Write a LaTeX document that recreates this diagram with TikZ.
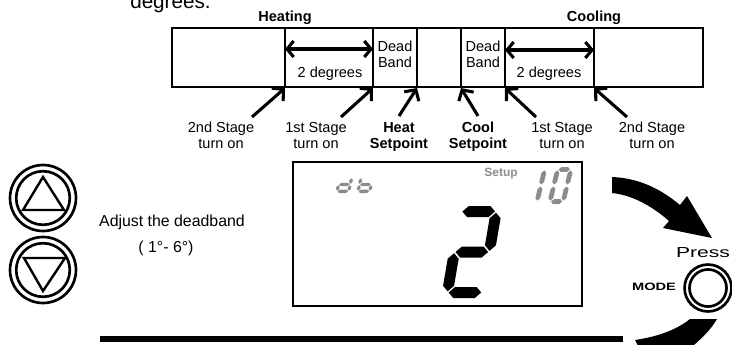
\documentclass[tikz,border=0pt]{standalone}
\usepackage{fontspec}
\setmainfont{Liberation Sans}
\usepackage{graphicx}
\usetikzlibrary{arrows.meta}
\definecolor{lcdgray}{HTML}{8C8C8C}
\newcommand\twoline[2]{\begin{tabular}[t]{@{}c@{}}#1\\#2\end{tabular}}
\newcommand\hseg[4]{\fill (#1,#3) -- (#1+#4/2,#3+#4/2) -- (#2-#4/2,#3+#4/2) -- (#2,#3) -- (#2-#4/2,#3-#4/2) -- (#1+#4/2,#3-#4/2) -- cycle;}
\newcommand\vseg[4]{\fill (#1,#2) -- (#1+#4/2,#2+#4/2) -- (#1+#4/2,#3-#4/2) -- (#1,#3) -- (#1-#4/2,#3-#4/2) -- (#1-#4/2,#2+#4/2) -- cycle;}
\newcommand\segA{\hseg{\dT/2+\dG}{\dW-\dT/2-\dG}{\dH-\dT/2}{\dT}}
\newcommand\segG{\hseg{\dT/2+\dG}{\dW-\dT/2-\dG}{\dH/2}{\dT}}
\newcommand\segD{\hseg{\dT/2+\dG}{\dW-\dT/2-\dG}{\dT/2}{\dT}}
\newcommand\segB{\vseg{\dW-\dT/2}{\dH/2+\dG}{\dH-\dT/2-\dG}{\dT}}
\newcommand\segC{\vseg{\dW-\dT/2}{\dT/2+\dG}{\dH/2-\dG}{\dT}}
\newcommand\segE{\vseg{\dT/2}{\dT/2+\dG}{\dH/2-\dG}{\dT}}
\newcommand\segF{\vseg{\dT/2}{\dH/2+\dG}{\dH-\dT/2-\dG}{\dT}}
\begin{document}
\begin{tikzpicture}[x=0.75pt,y=-0.75pt,
  txt/.style={font=\fontsize{10.9}{12}\selectfont, inner sep=0pt, anchor=base},
  btxt/.style={txt, font=\fontsize{10.9}{12}\selectfont\bfseries},
  barline/.style={line width=1.1pt},
  ptr/.style={line width=2.3pt, -{Straight Barb[length=6pt,width=13pt]}},
  dbl/.style={line width=2.3pt, {Straight Barb[length=5pt,width=12pt]}-{Straight Barb[length=5pt,width=12pt]}},
  ring/.style={line width=2pt},
]
\useasboundingbox (0,0) rectangle (732,344);

% caption fragment
\node[font=\fontsize{15.5}{18}\selectfont, inner sep=0pt, anchor=base west] (capt) at (130,8) {degrees.};

% band bar
\draw[barline] (172,28) rectangle (703,87);
\foreach \x in {285,373,417,461,505,594} \draw[barline] (\x,28) -- (\x,87);
\coordinate (t1) at (285,88); \coordinate (t2) at (373,88); \coordinate (t3) at (417,88);
\coordinate (t4) at (461,88); \coordinate (t5) at (505,88); \coordinate (t6) at (594,88);
\coordinate (s1) at (252,117); \coordinate (s2) at (341,117); \coordinate (s3) at (399,116);
\coordinate (s4) at (478,116); \coordinate (s5) at (536,117); \coordinate (s6) at (627,117);
\coordinate (h1) at (285,49); \coordinate (h2) at (373,49);
\coordinate (c1) at (505,50); \coordinate (c2) at (594,50);

\node[btxt] (heating) at (285,21) {Heating};
\node[btxt] (cooling) at (594,21) {Cooling};
\node[txt] (deg1) at (330,77) {2 degrees};
\node[txt] (deg2) at (549,77) {2 degrees};
\node[txt] (dead1) at (395,51) {\twoline{Dead}{Band}};
\node[txt] (dead2) at (483,51) {\twoline{Dead}{Band}};
\draw[dbl] (h1) -- (h2);
\draw[dbl] (c1) -- (c2);

\node[txt] (l1) at (221,132) {\twoline{2nd Stage}{turn on}};
\node[txt] (l2) at (316,132) {\twoline{1st Stage}{turn on}};
\node[btxt] (l3) at (399,132) {\twoline{Heat}{Setpoint}};
\node[btxt] (l4) at (478,132) {\twoline{Cool}{Setpoint}};
\node[txt] (l5) at (562,132) {\twoline{1st Stage}{turn on}};
\node[txt] (l6) at (652,132) {\twoline{2nd Stage}{turn on}};
\draw[ptr] (s1) -- (t1);
\draw[ptr] (s2) -- (t2);
\draw[ptr] (s3) -- (t3);
\draw[ptr] (s4) -- (t4);
\draw[ptr] (s5) -- (t5);
\draw[ptr] (s6) -- (t6);

% up / down buttons
\draw[ring] (43,198) circle[radius=24.75pt];
\draw[ring] (43,198) circle[radius=20.1pt];
\draw[line width=1.8pt, line join=miter] (23,210) -- (64,210) -- (43,177) -- cycle;
\draw[ring] (43,270) circle[radius=24.75pt];
\draw[ring] (43,270) circle[radius=20.1pt];
\draw[line width=1.8pt, line join=miter] (24,258) -- (65,258) -- (43,291) -- cycle;
\node[font=\fontsize{11.9}{14}\selectfont, inner sep=0pt, anchor=base] (adj) at (172,226) {Adjust the deadband};
\node[font=\fontsize{11.9}{14}\selectfont, inner sep=0pt, anchor=base] (rng) at (166,252) {( 1°- 6°)};

% LCD
\draw[line width=0.9pt] (293,162) rectangle (582,306);
\node[font=\fontsize{9}{10}\selectfont\bfseries, text=lcdgray, inner sep=0pt, anchor=base] (setup) at (501,176) {Setup};
% big 2
\begin{scope}[shift={(441,298)}, x=0.75pt, y=0.75pt, xslant=0.17, fill=black]
  \def\dW{46}\def\dH{92}\def\dT{11}\def\dG{1.2}
  \segA\segB\segG\segE\segD
\end{scope}
% db
\begin{scope}[shift={(335,193)}, x=0.75pt, y=0.75pt, xslant=0.22, fill=lcdgray]
  \def\dW{15}\def\dH{17}\def\dT{3.3}\def\dG{0.7}
  \segB\segC\segD\segE\segG
\end{scope}
\begin{scope}[shift={(356,193)}, x=0.75pt, y=0.75pt, xslant=0.22, fill=lcdgray]
  \def\dW{15}\def\dH{17}\def\dT{3.3}\def\dG{0.7}
  \segF\segE\segD\segC\segG
\end{scope}
% 10
\begin{scope}[shift={(534,204)}, x=0.75pt, y=0.75pt, xslant=0.24, fill=lcdgray]
  \def\dW{10}\def\dH{37}\def\dT{4.8}\def\dG{1}
  \segE\segF
\end{scope}
\begin{scope}[shift={(547,204)}, x=0.75pt, y=0.75pt, xslant=0.24, fill=lcdgray]
  \def\dW{18}\def\dH{37}\def\dT{4.8}\def\dG{1}
  \segA\segB\segC\segD\segE\segF
\end{scope}

% MODE button
\node[font=\fontsize{10.9}{12}\selectfont, inner sep=0pt, anchor=base] (press) at (703,257) {\scalebox{1.45}[1]{Press}};
\node[font=\fontsize{8}{9}\selectfont\bfseries, inner sep=0pt, anchor=base] (mode) at (654,290) {\scalebox{1.37}[1]{MODE}};
\draw[ring] (708,288) circle[radius=17.6pt];
\draw[ring] (708,288) circle[radius=13.9pt];

% curved arrows
\fill (612,177) .. controls (640,178) and (662,190) .. (680,205) -- (687,196) -- (712,238) -- (663,228) -- (669,221) .. controls (652,206) and (632,195) .. (612,193) -- cycle;
\fill (635,340) .. controls (655,337) and (675,331) .. (690,319) -- (717,319) .. controls (710,331) and (700,340) .. (688,350) -- (640,350) -- cycle;

% bottom line
\coordinate (b1) at (100,339); \coordinate (b2) at (623,339);
\draw[line width=4.5pt] (b1) -- (b2);
\end{tikzpicture}
\end{document}
